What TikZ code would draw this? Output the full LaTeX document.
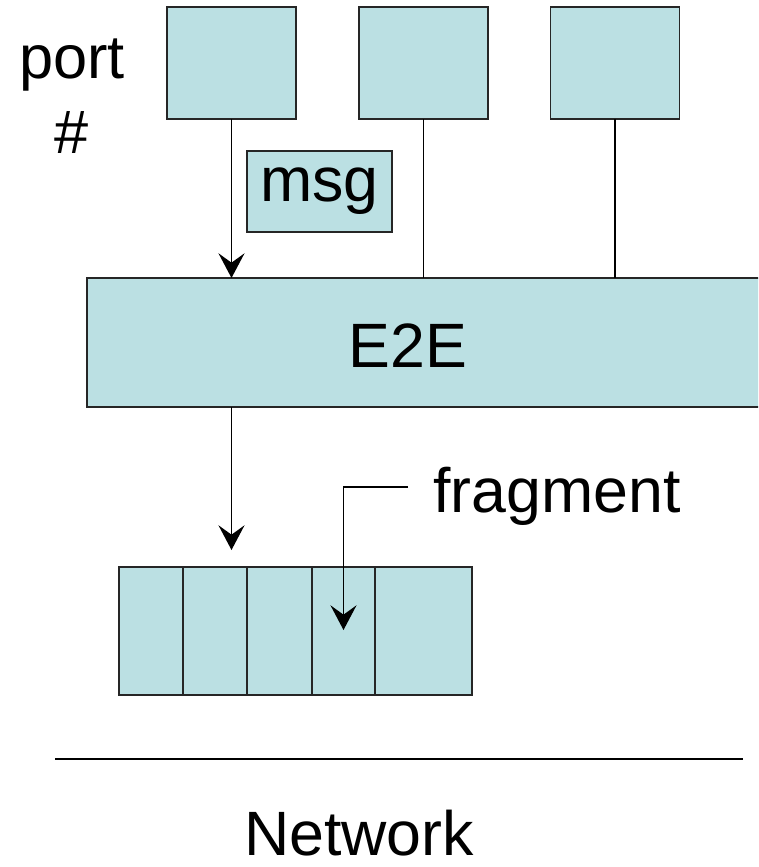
\documentclass[tikz,border=0pt]{standalone}
\usepackage{fontspec}
\setmainfont{Liberation Sans}
\usetikzlibrary{arrows.meta}
\definecolor{boxfill}{RGB}{187,224,227}

\begin{document}
\begin{tikzpicture}[
  x=0.75pt, y=-0.75pt,
  box/.style={draw=black!85, fill=boxfill, line width=1.3pt, inner sep=0pt, outer sep=0pt},
  portbox/.style={box, minimum width=96.75pt, minimum height=84pt},
  slot/.style={box, minimum height=96pt},
  wire/.style={line width=1.3pt},
  arr/.style={wire, -{Stealth[length=18.5pt, width=19.5pt, inset=7pt]}},
  txt/.style={inner sep=0pt, font=\fontsize{47}{56}\selectfont}
]
  \clip (0,0) rectangle (758,867);

  % ports
  \node[portbox] (p1) at (231.5,63) {};
  \node[portbox] (p2) at (423.5,63) {};
  \node[portbox] (p3) at (615,63) {};
  \node[txt, align=center, font=\fontsize{46}{56}\selectfont] (portlbl) at (72,96) {port\\\#};

  \node[box, minimum width=108.75pt, minimum height=60.75pt, txt] (msg) at (319.5,191.5) {msg};

  % end-to-end layer
  \node[box, minimum width=534.75pt, minimum height=96.75pt] (e2e) at (443.5,342.5) {};
  \node[txt, anchor=base] (e2elbl) at (408,367) {E2E};

  \draw[arr] (p1.south) -- (p1.south |- e2e.north);
  \draw[wire] (p2.south) -- (p2.south |- e2e.north);
  \draw[wire] (p3.south) -- (p3.south |- e2e.north);

  % fragment queue
  \node[slot, minimum width=48pt] (f1) at (151,631) {};
  \node[slot, minimum width=48.75pt] (f3) at (279.5,631) {};
  \node[slot, minimum width=72.75pt] (f5) at (423.5,631) {};
  \node[slot, minimum width=48pt] (f2) at (215,631) {};
  \node[slot, minimum width=47.25pt] (f4) at (343.5,631) {};

  \coordinate (qin) at (231.5,550);
  \draw[arr] (p1.south |- e2e.south) -- (qin);

  \node[txt, anchor=base west] (fraglbl) at (433,512) {fragment};
  \coordinate (fragend) at (408,487);
  \coordinate (fragtip) at (343.5,630);
  \draw[arr] (fragend) -| (fragtip);

  % network
  \coordinate (netl) at (55,759);
  \coordinate (netr) at (743,759);
  \draw[wire] (netl) -- (netr);
  \node[txt, anchor=base] (net) at (359,855) {Network};
\end{tikzpicture}
\end{document}
